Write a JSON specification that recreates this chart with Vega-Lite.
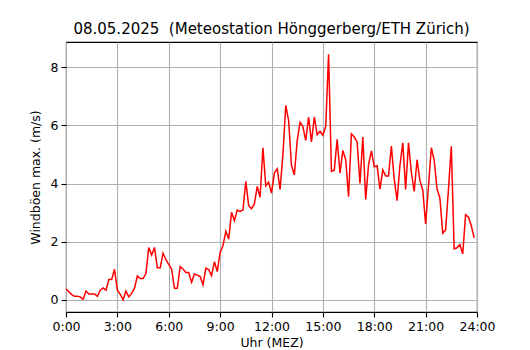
{
  "$schema": "https://vega.github.io/schema/vega-lite/v6.json",
  "width": 411,
  "height": 270,
  "autosize": {"type": "none"},
  "padding": {"left": 66, "top": 42, "right": 53, "bottom": 38},
  "background": "white",
  "title": {
    "text": "08.05.2025\u00a0 (Meteostation Hönggerberg/ETH Zürich)",
    "font": "DejaVu Sans",
    "fontSize": 15,
    "fontWeight": "normal",
    "color": "black",
    "anchor": "middle",
    "offset": 5
  },
  "config": {
    "view": {"stroke": "black", "strokeWidth": 1.1},
    "axis": {
      "grid": true,
      "gridColor": "#b0b0b0",
      "gridWidth": 1.1,
      "domain": false,
      "ticks": true,
      "tickColor": "black",
      "tickSize": 5,
      "tickWidth": 1.1,
      "labelFont": "DejaVu Sans",
      "labelFontSize": 12.5,
      "labelColor": "black",
      "labelPadding": 3,
      "titleFont": "DejaVu Sans",
      "titleFontSize": 12.5,
      "titleFontWeight": "normal",
      "titleColor": "black"
    }
  },
  "data": {
    "values": [
      {"t": "2025-05-08T00:00", "v": 0.38}, {"t": "2025-05-08T00:10", "v": 0.28}, {"t": "2025-05-08T00:20", "v": 0.18}, {"t": "2025-05-08T00:30", "v": 0.12}, {"t": "2025-05-08T00:40", "v": 0.12}, {"t": "2025-05-08T00:50", "v": 0.1},
      {"t": "2025-05-08T01:00", "v": 0.02}, {"t": "2025-05-08T01:10", "v": 0.3}, {"t": "2025-05-08T01:20", "v": 0.2}, {"t": "2025-05-08T01:30", "v": 0.2}, {"t": "2025-05-08T01:40", "v": 0.2}, {"t": "2025-05-08T01:50", "v": 0.12},
      {"t": "2025-05-08T02:00", "v": 0.33}, {"t": "2025-05-08T02:10", "v": 0.41}, {"t": "2025-05-08T02:20", "v": 0.33}, {"t": "2025-05-08T02:30", "v": 0.7}, {"t": "2025-05-08T02:40", "v": 0.7}, {"t": "2025-05-08T02:50", "v": 1.05},
      {"t": "2025-05-08T03:00", "v": 0.33}, {"t": "2025-05-08T03:10", "v": 0.19}, {"t": "2025-05-08T03:20", "v": 0.0}, {"t": "2025-05-08T03:30", "v": 0.3}, {"t": "2025-05-08T03:40", "v": 0.1}, {"t": "2025-05-08T03:50", "v": 0.22},
      {"t": "2025-05-08T04:00", "v": 0.4}, {"t": "2025-05-08T04:10", "v": 0.82}, {"t": "2025-05-08T04:20", "v": 0.73}, {"t": "2025-05-08T04:30", "v": 0.73}, {"t": "2025-05-08T04:40", "v": 0.9}, {"t": "2025-05-08T04:50", "v": 1.8},
      {"t": "2025-05-08T05:00", "v": 1.54}, {"t": "2025-05-08T05:10", "v": 1.8}, {"t": "2025-05-08T05:20", "v": 1.1}, {"t": "2025-05-08T05:30", "v": 1.1}, {"t": "2025-05-08T05:40", "v": 1.6}, {"t": "2025-05-08T05:50", "v": 1.38},
      {"t": "2025-05-08T06:00", "v": 1.22}, {"t": "2025-05-08T06:10", "v": 1.06}, {"t": "2025-05-08T06:20", "v": 0.4}, {"t": "2025-05-08T06:30", "v": 0.4}, {"t": "2025-05-08T06:40", "v": 1.14}, {"t": "2025-05-08T06:50", "v": 1.06},
      {"t": "2025-05-08T07:00", "v": 0.94}, {"t": "2025-05-08T07:10", "v": 0.94}, {"t": "2025-05-08T07:20", "v": 0.6}, {"t": "2025-05-08T07:30", "v": 0.89}, {"t": "2025-05-08T07:40", "v": 0.85}, {"t": "2025-05-08T07:50", "v": 0.8},
      {"t": "2025-05-08T08:00", "v": 0.52}, {"t": "2025-05-08T08:10", "v": 1.09}, {"t": "2025-05-08T08:20", "v": 1.04}, {"t": "2025-05-08T08:30", "v": 0.83}, {"t": "2025-05-08T08:40", "v": 1.31}, {"t": "2025-05-08T08:50", "v": 0.97},
      {"t": "2025-05-08T09:00", "v": 1.63}, {"t": "2025-05-08T09:10", "v": 1.86}, {"t": "2025-05-08T09:20", "v": 2.36}, {"t": "2025-05-08T09:30", "v": 2.09}, {"t": "2025-05-08T09:40", "v": 3.01}, {"t": "2025-05-08T09:50", "v": 2.72},
      {"t": "2025-05-08T10:00", "v": 3.09}, {"t": "2025-05-08T10:10", "v": 3.04}, {"t": "2025-05-08T10:20", "v": 3.09}, {"t": "2025-05-08T10:30", "v": 4.08}, {"t": "2025-05-08T10:40", "v": 3.24}, {"t": "2025-05-08T10:50", "v": 3.13},
      {"t": "2025-05-08T11:00", "v": 3.3}, {"t": "2025-05-08T11:10", "v": 3.9}, {"t": "2025-05-08T11:20", "v": 3.53}, {"t": "2025-05-08T11:30", "v": 5.23}, {"t": "2025-05-08T11:40", "v": 3.92}, {"t": "2025-05-08T11:50", "v": 4.05},
      {"t": "2025-05-08T12:00", "v": 3.67}, {"t": "2025-05-08T12:10", "v": 4.36}, {"t": "2025-05-08T12:20", "v": 4.51}, {"t": "2025-05-08T12:30", "v": 3.8}, {"t": "2025-05-08T12:40", "v": 5.0}, {"t": "2025-05-08T12:50", "v": 6.69},
      {"t": "2025-05-08T13:00", "v": 6.17}, {"t": "2025-05-08T13:10", "v": 4.62}, {"t": "2025-05-08T13:20", "v": 4.3}, {"t": "2025-05-08T13:30", "v": 5.48}, {"t": "2025-05-08T13:40", "v": 6.11}, {"t": "2025-05-08T13:50", "v": 5.96},
      {"t": "2025-05-08T14:00", "v": 5.48}, {"t": "2025-05-08T14:10", "v": 6.29}, {"t": "2025-05-08T14:20", "v": 5.43}, {"t": "2025-05-08T14:30", "v": 6.29}, {"t": "2025-05-08T14:40", "v": 5.68}, {"t": "2025-05-08T14:50", "v": 5.8},
      {"t": "2025-05-08T15:00", "v": 5.66}, {"t": "2025-05-08T15:10", "v": 5.97}, {"t": "2025-05-08T15:20", "v": 8.45}, {"t": "2025-05-08T15:30", "v": 4.42}, {"t": "2025-05-08T15:40", "v": 4.46}, {"t": "2025-05-08T15:50", "v": 5.52},
      {"t": "2025-05-08T16:00", "v": 4.36}, {"t": "2025-05-08T16:10", "v": 5.14}, {"t": "2025-05-08T16:20", "v": 4.82}, {"t": "2025-05-08T16:30", "v": 3.55}, {"t": "2025-05-08T16:40", "v": 5.71}, {"t": "2025-05-08T16:50", "v": 5.6},
      {"t": "2025-05-08T17:00", "v": 5.43}, {"t": "2025-05-08T17:10", "v": 4.0}, {"t": "2025-05-08T17:20", "v": 5.6}, {"t": "2025-05-08T17:30", "v": 3.45}, {"t": "2025-05-08T17:40", "v": 4.65}, {"t": "2025-05-08T17:50", "v": 5.12},
      {"t": "2025-05-08T18:00", "v": 4.58}, {"t": "2025-05-08T18:10", "v": 4.61}, {"t": "2025-05-08T18:20", "v": 3.81}, {"t": "2025-05-08T18:30", "v": 4.47}, {"t": "2025-05-08T18:40", "v": 4.26}, {"t": "2025-05-08T18:50", "v": 4.26},
      {"t": "2025-05-08T19:00", "v": 5.29}, {"t": "2025-05-08T19:10", "v": 4.15}, {"t": "2025-05-08T19:20", "v": 3.41}, {"t": "2025-05-08T19:30", "v": 4.62}, {"t": "2025-05-08T19:40", "v": 5.4}, {"t": "2025-05-08T19:50", "v": 3.8},
      {"t": "2025-05-08T20:00", "v": 5.4}, {"t": "2025-05-08T20:10", "v": 4.38}, {"t": "2025-05-08T20:20", "v": 3.73}, {"t": "2025-05-08T20:30", "v": 4.82}, {"t": "2025-05-08T20:40", "v": 4.1}, {"t": "2025-05-08T20:50", "v": 3.78},
      {"t": "2025-05-08T21:00", "v": 2.61}, {"t": "2025-05-08T21:10", "v": 3.9}, {"t": "2025-05-08T21:20", "v": 5.23}, {"t": "2025-05-08T21:30", "v": 4.8}, {"t": "2025-05-08T21:40", "v": 3.82}, {"t": "2025-05-08T21:50", "v": 3.5},
      {"t": "2025-05-08T22:00", "v": 2.29}, {"t": "2025-05-08T22:10", "v": 2.4}, {"t": "2025-05-08T22:20", "v": 3.8}, {"t": "2025-05-08T22:30", "v": 5.28}, {"t": "2025-05-08T22:40", "v": 1.75}, {"t": "2025-05-08T22:50", "v": 1.79},
      {"t": "2025-05-08T23:00", "v": 1.9}, {"t": "2025-05-08T23:10", "v": 1.58}, {"t": "2025-05-08T23:20", "v": 2.93}, {"t": "2025-05-08T23:30", "v": 2.85}, {"t": "2025-05-08T23:40", "v": 2.55}, {"t": "2025-05-08T23:50", "v": 2.13}
    ]
  },
  "mark": {"type": "line", "color": "red", "strokeWidth": 1.5, "clip": true},
  "encoding": {
    "x": {
      "field": "t",
      "type": "temporal",
      "scale": {"domain": [{"year": 2025, "month": 5, "date": 8, "hours": 0}, {"year": 2025, "month": 5, "date": 9, "hours": 0}]},
      "axis": {
        "title": "Uhr (MEZ)",
        "titlePadding": 4,
        "values": [
          {"year": 2025, "month": 5, "date": 8, "hours": 0},
          {"year": 2025, "month": 5, "date": 8, "hours": 3},
          {"year": 2025, "month": 5, "date": 8, "hours": 6},
          {"year": 2025, "month": 5, "date": 8, "hours": 9},
          {"year": 2025, "month": 5, "date": 8, "hours": 12},
          {"year": 2025, "month": 5, "date": 8, "hours": 15},
          {"year": 2025, "month": 5, "date": 8, "hours": 18},
          {"year": 2025, "month": 5, "date": 8, "hours": 21},
          {"year": 2025, "month": 5, "date": 9, "hours": 0}
        ],
        "labelExpr": "date(datum.value) == 9 ? '24:00' : timeFormat(datum.value, '%-H:%M')",
        "labelOverlap": false,
        "labelFlush": false
      }
    },
    "y": {
      "field": "v",
      "type": "quantitative",
      "scale": {"domain": [-0.42, 8.87], "nice": false, "zero": false},
      "axis": {
        "title": "Windböen max. (m/s)",
        "titlePadding": 8,
        "values": [0, 2, 4, 6, 8]
      }
    }
  }
}
